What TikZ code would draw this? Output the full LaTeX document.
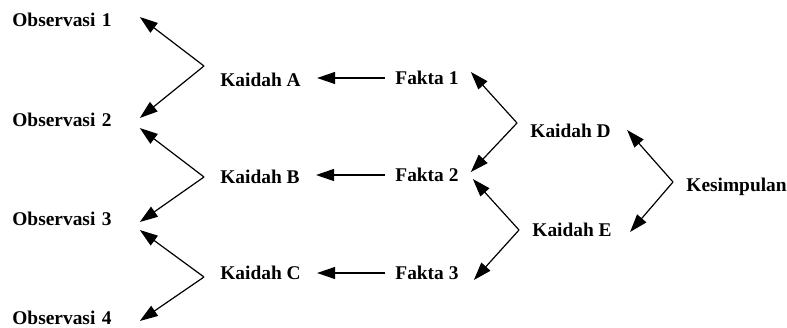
\documentclass[tikz,border=0pt]{standalone}
\usepackage{fontspec}
\setmainfont{Liberation Serif}
\usetikzlibrary{arrows.meta,calc}

\begin{document}
\begin{tikzpicture}[x=0.5pt,y=-0.5pt,
  lbl/.style={font=\bfseries\fontsize{9.7}{12}\selectfont, anchor=west, inner ysep=1pt},
  obs/.style={lbl, inner xsep=0pt, text width=63.5pt, align=left},
  kaidah/.style={lbl, inner xsep=8pt},
  fakta/.style={lbl, inner xsep=5pt},
  kanan/.style={lbl, inner xsep=6.5pt},
  panah/.style={line width=0.6pt, -{Triangle[length=9pt,width=6pt]}}]
  \useasboundingbox (0,0) rectangle (787,327);

  \node[obs] (o1) at (12,20) {Observasi 1};
  \node[obs] (o2) at (12,120) {Observasi 2};
  \node[obs] (o3) at (12,219) {Observasi 3};
  \node[obs] (o4) at (12,318) {Observasi 4};

  \node[kaidah] (kA) at (204,80) {Kaidah A};
  \node[kaidah] (kB) at (204,177) {Kaidah B};
  \node[kaidah] (kC) at (204,273) {Kaidah C};

  \node[fakta] (f1) at (385,78) {Fakta 1};
  \node[fakta] (f2) at (385,175) {Fakta 2};
  \node[fakta] (f3) at (385,273) {Fakta 3};

  \node[kanan] (kD) at (517,131) {Kaidah D};
  \node[kanan] (kE) at (519,230) {Kaidah E};

  \node[kanan] (ks) at (673,187) {Kesimpulan};


  % kaidah ke observasi
  \draw[panah] ($(kA.west)+(0,-14)$) -- ($(o1.east)+(0,-3)$);
  \draw[panah] ($(kA.west)+(0,-14)$) -- ($(o2.east)+(0,-2)$);
  \draw[panah] (kB.west) -- ($(o2.east)+(0,8)$);
  \draw[panah] (kB.west) -- ($(o3.east)+(0,3)$);
  \draw[panah] ($(kC.west)+(0,4)$) -- ($(o3.east)+(0,11)$);
  \draw[panah] ($(kC.west)+(0,4)$) -- ($(o4.east)+(0,3)$);

  % fakta ke kaidah
  \draw[panah] (f1.west) -- (f1.west -| kA.east);
  \draw[panah] (f2.west) -- (f2.west -| kB.east);
  \draw[panah] (f3.west) -- (f3.west -| kC.east);

  % kaidah D dan E ke fakta
  \draw[panah] ($(kD.west)+(0,-8)$) -- ($(f1.east)+(2,-6)$);
  \draw[panah] ($(kD.west)+(0,-8)$) -- ($(f2.east)+(2,-3)$);
  \draw[panah] (kE.west) -- ($(f2.east)+(4,4)$);
  \draw[panah] (kE.west) -- ($(f3.east)+(5,7)$);

  % kesimpulan
  \draw[panah] ($(ks.west)+(0,-5)$) -- ($(kD.east)+(3,-1)$);
  \draw[panah] ($(ks.west)+(0,-5)$) -- ($(kE.east)+(5,2)$);
\end{tikzpicture}
\end{document}
